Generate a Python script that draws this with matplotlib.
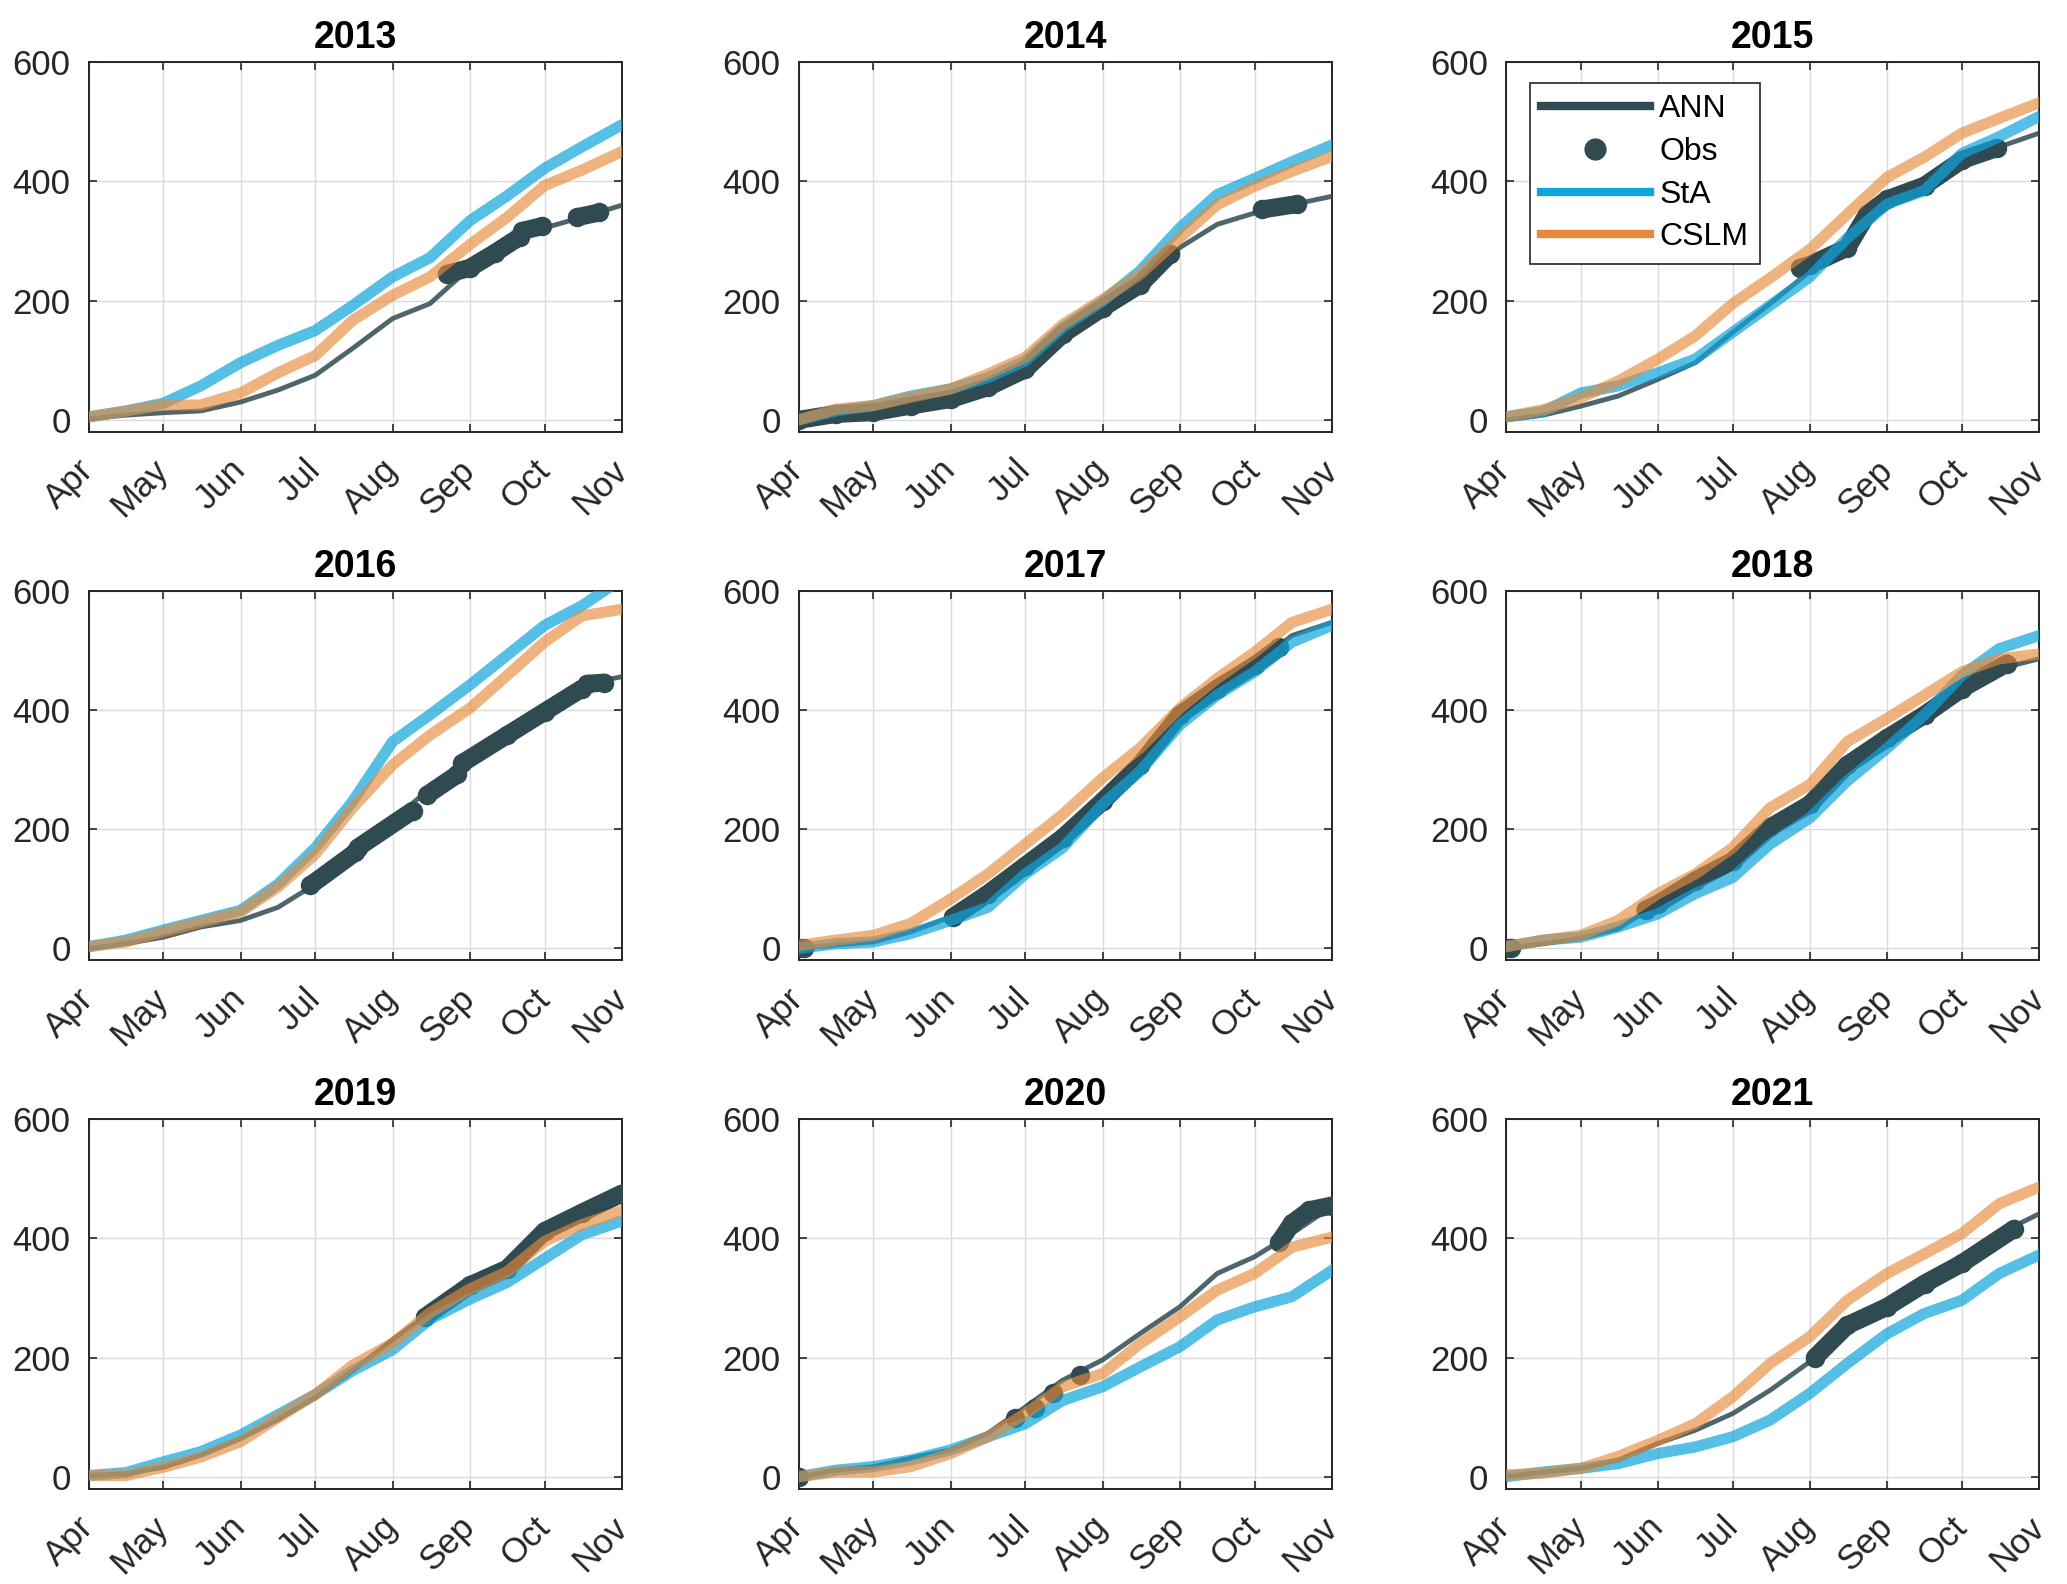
import matplotlib

matplotlib.use("Agg")
import matplotlib.pyplot as plt
from matplotlib.lines import Line2D

plt.rcParams['font.family'] = ['Liberation Sans', 'DejaVu Sans']

# days since 1 April, sampled twice a month
DAYS = [0, 15, 30, 45, 61, 76, 91, 106, 122, 137, 153, 168, 183, 198, 214]
YEARS = [2013, 2014, 2015, 2016, 2017, 2018, 2019, 2020, 2021]
MONTH_DAYS = [0, 30, 61, 91, 122, 153, 183, 214]
MONTHS = ["Apr", "May", "Jun", "Jul", "Aug", "Sep", "Oct", "Nov"]

# cumulative values
ANN = {
    2013: [2, 8, 12, 15, 30, 50, 75, 120, 170, 195, 255, 295, 322, 340, 360],
    2014: [0, 10, 13, 24, 35, 55, 85, 144, 188, 227, 289, 328, 347, 361, 375],
    2015: [0, 8, 23, 40, 68, 96, 147, 195, 249, 285, 375, 396, 436, 458, 481],
    2016: [0, 8, 19, 36, 47, 69, 108, 164, 214, 269, 319, 369, 408, 442, 456],
    2017: [0, 6, 11, 28, 53, 92, 139, 186, 247, 308, 392, 436, 475, 525, 547],
    2018: [0, 8, 17, 33, 75, 114, 147, 203, 242, 308, 353, 392, 436, 469, 486],
    2019: [2, 5, 16, 36, 64, 96, 133, 178, 230, 275, 321, 349, 412, 443, 475],
    2020: [0, 11, 17, 31, 45, 73, 117, 162, 196, 240, 285, 341, 369, 408, 453],
    2021: [0, 8, 14, 28, 56, 78, 106, 145, 193, 257, 285, 324, 358, 408, 441],
}
STA = {
    2013: [5, 15, 28, 57, 96, 125, 150, 192, 240, 272, 334, 376, 422, 458, 495],
    2014: [0, 15, 24, 40, 52, 71, 99, 155, 199, 250, 322, 378, 405, 433, 461],
    2015: [5, 14, 45, 57, 79, 102, 147, 192, 240, 305, 362, 385, 447, 475, 509],
    2016: [3, 14, 31, 47, 64, 108, 169, 247, 347, 392, 442, 492, 542, 575, 620],
    2017: [0, 8, 11, 25, 47, 69, 125, 169, 242, 297, 375, 425, 464, 514, 542],
    2018: [3, 14, 19, 36, 58, 92, 119, 175, 219, 281, 336, 392, 458, 503, 525],
    2019: [2, 7, 25, 42, 70, 104, 138, 178, 213, 264, 298, 326, 366, 406, 429],
    2020: [0, 11, 17, 28, 45, 67, 89, 128, 151, 184, 218, 263, 285, 302, 346],
    2021: [0, 8, 14, 22, 39, 50, 67, 95, 140, 190, 240, 274, 296, 341, 372],
}
CSLM = {
    2013: [5, 15, 25, 25, 45, 79, 108, 167, 209, 240, 294, 340, 393, 419, 450],
    2014: [0, 18, 24, 38, 52, 77, 105, 160, 202, 244, 305, 361, 392, 417, 442],
    2015: [5, 17, 37, 65, 102, 141, 195, 238, 286, 345, 407, 441, 481, 506, 532],
    2016: [3, 11, 28, 44, 61, 103, 158, 236, 308, 358, 403, 458, 514, 558, 569],
    2017: [5, 14, 22, 42, 83, 125, 175, 225, 286, 336, 403, 453, 497, 547, 569],
    2018: [3, 14, 22, 47, 92, 125, 169, 236, 275, 347, 386, 425, 464, 486, 494],
    2019: [2, 2, 16, 33, 59, 99, 138, 187, 224, 275, 315, 344, 395, 423, 446],
    2020: [0, 8, 8, 17, 39, 67, 106, 151, 173, 223, 268, 313, 341, 385, 402],
    2021: [3, 6, 14, 34, 61, 89, 134, 190, 235, 296, 341, 374, 408, 458, 486],
}
# observed periods: (days, values) per segment
OBS = {
    2013: [([144, 153, 163, 173], [245, 255, 280, 307]),
           ([174, 182], [317, 325]),
           ([196, 205], [340, 348])],
    2014: [([0, 15, 30, 45, 61, 76, 91, 106, 122, 137, 149],
            [0, 10, 13, 24, 35, 55, 85, 144, 188, 227, 278]),
           ([186, 200], [353, 362])],
    2015: [([118, 122, 137, 145, 153, 168, 183, 197],
            [255, 260, 289, 345, 370, 393, 436, 456])],
    2016: [([89, 107], [106, 161]),
           ([108, 130], [169, 231]),
           ([136, 148], [258, 292]),
           ([150, 168, 183, 198], [311, 358, 397, 436]),
           ([200, 207], [444, 446])],
    2017: [([0, 2], [0, 1]),
           ([62, 76, 91, 106, 122, 137, 153, 168, 183, 193],
            [53, 92, 139, 186, 247, 308, 392, 436, 475, 505])],
    2018: [([0, 2], [0, 1]),
           ([56, 61, 76, 91, 106, 122, 137, 153, 168, 183, 201],
            [65, 75, 114, 147, 203, 242, 308, 353, 392, 436, 478])],
    2019: [([135, 153, 168, 183, 198, 214], [268, 321, 349, 412, 443, 475])],
    2020: [([0], [0]), ([87], [98]), ([95], [115]), ([102], [140]), ([113], [170]),
           ([193, 198, 205, 214], [394, 425, 447, 455])],
    2021: [([124, 137, 153, 168, 183, 204], [200, 254, 285, 324, 358, 416])],
}

ANN_C = "#2f4a51"
STA_C = "#0ea4dc"
CSLM_C = "#e68a3a"

fig = plt.figure(figsize=(20.67, 15.84), dpi=100)

lefts = [0.0429, 0.3864, 0.7286]
bottoms = [0.7274, 0.3937, 0.0602]
w, h = 0.2579, 0.2333

for i, yr in enumerate(YEARS):
    ax = fig.add_axes([lefts[i % 3], bottoms[i // 3], w, h])
    ax.plot(DAYS, ANN[yr], color=ANN_C, lw=3.5, alpha=0.85, zorder=3)
    for d, v in OBS[yr]:
        ax.plot(d, v, color=ANN_C, lw=13, marker="o", ms=13,
                solid_capstyle="round", zorder=4)
    ax.plot(DAYS, STA[yr], color=STA_C, lw=8, alpha=0.7, zorder=5)
    ax.plot(DAYS, CSLM[yr], color=CSLM_C, lw=8, alpha=0.65, zorder=6)

    ax.set_xlim(0, 214)
    ax.set_ylim(-20, 600)
    ax.set_yticks([0, 200, 400, 600])
    ax.set_xticks(MONTH_DAYS)
    ax.set_xticklabels(MONTHS, rotation=45, ha="right", va="center",
                       rotation_mode="anchor")
    ax.tick_params(direction="in", length=6, width=1.2, top=True, right=True,
                   labelsize=25, colors="#262626")
    ax.tick_params(axis="x", pad=24)
    ax.tick_params(axis="y", pad=13)
    ax.grid(True, color="#dadada", lw=1.0)
    ax.set_axisbelow(True)
    for s in ax.spines.values():
        s.set_color("#262626")
        s.set_linewidth(1.4)
    ax.set_title(str(yr), fontsize=27, fontweight="bold", pad=10)

    if yr == 2015:
        handles = [
            Line2D([], [], color=ANN_C, lw=6),
            Line2D([], [], color=ANN_C, marker="o", ls="none", ms=15),
            Line2D([], [], color=STA_C, lw=6),
            Line2D([], [], color=CSLM_C, lw=6),
        ]
        leg = ax.legend(handles, ["ANN", "Obs", "StA", "CSLM"],
                        loc="upper left", bbox_to_anchor=(0.045, 0.944),
                        fontsize=23, handlelength=3.4, labelspacing=0.4,
                        handletextpad=0.3, borderpad=0.35, borderaxespad=0,
                        fancybox=False, framealpha=1, edgecolor="#262626")
        leg.get_frame().set_linewidth(1.2)

fig.savefig("out.png", dpi=100)
